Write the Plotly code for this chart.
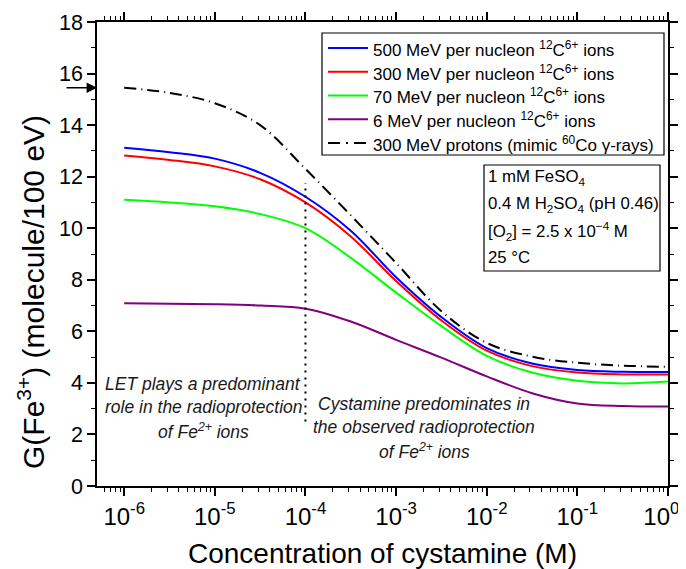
import numpy as np
import plotly.graph_objects as go

# ---------------- data ----------------
log_conc = [-6, -5.5, -5, -4.5, -4, -3.5, -3, -2.5, -2, -1.5, -1, -0.5, 0]

g_500 = [13.12, 12.95, 12.70, 12.15, 11.22, 9.90, 8.10, 6.55, 5.35, 4.75, 4.50, 4.43, 4.42]
g_300 = [12.82, 12.65, 12.40, 11.90, 11.00, 9.68, 7.95, 6.42, 5.25, 4.65, 4.40, 4.33, 4.33]
g_70 = [11.10, 11.00, 10.85, 10.55, 10.00, 8.85, 7.50, 6.20, 5.05, 4.40, 4.08, 3.98, 4.05]
g_6 = [7.09, 7.07, 7.05, 7.00, 6.88, 6.38, 5.67, 4.98, 4.25, 3.60, 3.20, 3.10, 3.08]
g_protons = [15.45, 15.25, 14.85, 14.00, 12.30, 10.50, 8.65, 6.78, 5.55, 5.02, 4.78, 4.67, 4.62]

series_names = [
    "500 MeV per nucleon <sup>12</sup>C<sup>6+</sup> ions",
    "300 MeV per nucleon <sup>12</sup>C<sup>6+</sup> ions",
    "70 MeV per nucleon <sup>12</sup>C<sup>6+</sup> ions",
    "6 MeV per nucleon <sup>12</sup>C<sup>6+</sup> ions",
    "300 MeV protons (mimic <sup>60</sup>Co γ-rays)",
]
series_colors = ["#0000FF", "#FF0000", "#00FF00", "#800080", "#000000"]

divider_x = [1e-4, 1e-4]
divider_y = [2.5, 11.75]
arrow_y = 15.45

x_tickvals = [1e-6, 1e-5, 1e-4, 1e-3, 1e-2, 1e-1, 1e0]
x_ticktext = ["10<sup>-6</sup>", "10<sup>-5</sup>", "10<sup>-4</sup>", "10<sup>-3</sup>",
              "10<sup>-2</sup>", "10<sup>-1</sup>", "10<sup>0</sup>\u00a0\u00a0"]

x_title = "Concentration of cystamine (M)"
y_title = "G(Fe<sup>3+</sup>) (molecule/100 eV)"

conditions = ["1 mM FeSO<sub>4</sub>",
              "0.4 M H<sub>2</sub>SO<sub>4</sub> (pH 0.46)",
              "[O<sub>2</sub>] = 2.5 x 10<sup>−4</sup> M",
              "25 °C"]
left_note = ["LET plays a predominant", "role in the radioprotection",
             "of Fe<sup>2+</sup> ions"]
right_note = ["Cystamine predominates in", "the observed radioprotection",
              "of Fe<sup>2+</sup> ions"]

# ---------------- figure ----------------
FONT = "Liberation Sans, Arial, sans-serif"
TXT = 17
conc = np.power(10.0, log_conc)
PROTON_DASH = "12px,5px,1px,5px"

fig = go.Figure()
series = [g_500, g_300, g_70, g_6, g_protons]
for i, vals in enumerate(series):
    fig.add_trace(go.Scatter(
        x=conc, y=vals, mode="lines", name=series_names[i], showlegend=False,
        line=dict(color=series_colors[i], width=2,
                  dash=PROTON_DASH if i == 4 else "solid",
                  shape="spline", smoothing=1.0),
    ))

fig.add_trace(go.Scatter(
    x=divider_x, y=divider_y, mode="lines", showlegend=False,
    line=dict(color="black", width=2, dash="2px,5px"),
))

# page is offset by the 8px body margin of the html page
OFF = 8
W, H = 686 - OFF, 569 - OFF
L, R, T, B = 97, 668, 22, 486      # plot area in page pixels


def px(xp):
    return (xp - L) / (R - L)


def py(yp):
    return (B - yp) / (B - T)


annotations = []
shapes = []

# y-axis title (placed like the original, slightly below the axis centre)
annotations.append(dict(xref="paper", yref="paper", x=px(31), y=py(292),
                        xanchor="center", yanchor="middle", showarrow=False,
                        textangle=-90, text=y_title,
                        font=dict(family=FONT, size=30, color="black")))

# arrow at the y axis
annotations.append(dict(xref="paper", yref="y", x=0, y=arrow_y, ax=-32, ay=0,
                        showarrow=True, arrowhead=2, arrowsize=1.3, arrowwidth=1.6,
                        arrowcolor="black", text=""))

# hand-built legend (box, sample lines, labels)
shapes.append(dict(type="rect", xref="paper", yref="paper", x0=px(322), x1=px(664),
                   y0=py(155), y1=py(33), line=dict(color="black", width=1.2),
                   fillcolor="white", layer="below"))
for i, name in enumerate(series_names):
    yc = 48 + 23.75 * i
    shapes.append(dict(type="line", xref="paper", yref="paper", x0=px(328), x1=px(368),
                       y0=py(yc), y1=py(yc),
                       line=dict(color=series_colors[i], width=2,
                                 dash="12px,6px,2px,6px" if i == 4 else "solid")))
    annotations.append(dict(xref="paper", yref="paper", x=px(371), y=py(yc + 1),
                            xanchor="left", yanchor="middle", showarrow=False, text=name,
                            font=dict(family=FONT, size=TXT, color="black")))

# condition box
shapes.append(dict(type="rect", xref="paper", yref="paper", x0=px(484), x1=px(660),
                   y0=py(271), y1=py(165), line=dict(color="black", width=1.2),
                   fillcolor="white", layer="below"))
for i, t in enumerate(conditions):
    annotations.append(dict(xref="paper", yref="paper", x=px(486), y=py(178 + 26.5 * i),
                            xanchor="left", yanchor="middle", showarrow=False, text=t,
                            font=dict(family=FONT, size=16.8, color="black")))

for i, t in enumerate(left_note):
    annotations.append(dict(xref="paper", yref="paper", x=px(203), y=py(384 + 23.3 * i),
                            xanchor="center", yanchor="middle", showarrow=False,
                            text=f"<i>{t}</i>",
                            font=dict(family=FONT, size=17.5, color="#1a1a1a")))
for i, t in enumerate(right_note):
    annotations.append(dict(xref="paper", yref="paper", x=px(424), y=py(404 + 23.3 * i),
                            xanchor="center", yanchor="middle", showarrow=False,
                            text=f"<i>{t}</i>",
                            font=dict(family=FONT, size=17.5, color="#1a1a1a")))

axis_common = dict(showline=True, linecolor="black", linewidth=1.5, mirror="ticks",
                   ticks="outside", ticklen=8, tickwidth=1.5, tickcolor="black",
                   showgrid=False, zeroline=False, ticklabeloverflow="allow")

fig.update_layout(
    width=W, height=H,
    margin=dict(l=L - OFF, r=686 - R, t=T - OFF, b=569 - B, autoexpand=False),
    paper_bgcolor="white", plot_bgcolor="white",
    font=dict(family=FONT, color="black"),
    showlegend=False,
    xaxis=dict(type="log", range=[-6.3, 0.0], tickvals=x_tickvals, ticktext=x_ticktext,
               tickfont=dict(family=FONT, size=24, color="black"),
               title=dict(text=x_title,
                          font=dict(family=FONT, size=28, color="black"), standoff=15),
               minor=dict(ticks="outside", ticklen=4, tickwidth=1.2, tickcolor="black",
                          dtick="D1", showgrid=False),
               **axis_common),
    yaxis=dict(range=[0, 18], dtick=2,
               tickfont=dict(family=FONT, size=21.5, color="black"),
               minor=dict(ticks="outside", ticklen=4, tickwidth=1.2, tickcolor="black",
                          dtick=1, showgrid=False),
               **axis_common),
    annotations=annotations,
    shapes=shapes,
)

fig.write_html("out.html")
